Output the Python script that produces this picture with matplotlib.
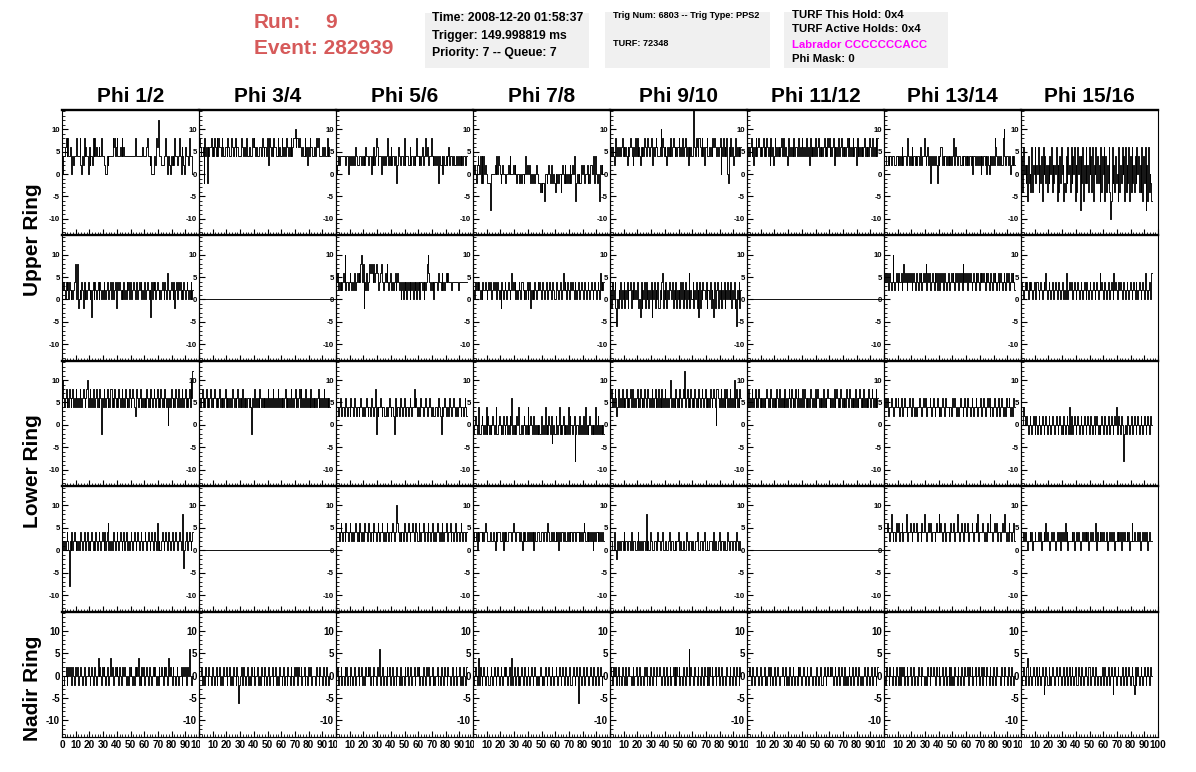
import numpy as np
import matplotlib
matplotlib.use("Agg")
import matplotlib.pyplot as plt
from matplotlib.patches import Rectangle
from matplotlib.ticker import MultipleLocator
from matplotlib.transforms import Bbox, TransformedBbox

plt.rcParams['font.family'] = ['Liberation Sans', 'DejaVu Sans']
plt.rcParams['font.weight'] = 'bold'
plt.rcParams['axes.unicode_minus'] = False

# ---------------- data ----------------
# Waveforms: one character per sample, value(mV) = 2*int(ch, 16) - 10
#  '0'=-10 '1'=-8 '2'=-6 '3'=-4 '4'=-2 '5'=0 '6'=2 '7'=4 '8'=6 '9'=8 'a'=10 'b'=12 'd'=16
sample_dt_ns = 0.6
column_titles = ["Phi 1/2", "Phi 3/4", "Phi 5/6", "Phi 7/8",
                 "Phi 9/10", "Phi 11/12", "Phi 13/14", "Phi 15/16"]
ring_labels = ["Upper Ring", "Lower Ring", "Nadir Ring"]
dead_channel = "5" * 168

upper_ring_top = [
    "55778979778757677897" "77965769787758677697" "97877877977765576777" "77989789777879787777"
    "77777777797777777787" "77789776755557698b97" "76666797577657676977" "66797587658777697775",
    "79877849784878897879" "87979887987788798777" "98789788777898788797" "78877989878777887987"
    "88797698787988779787" "79878798878797899a89" "98988787797868798877" "88798987778788779787",
    "55676777777767757767" "67768766777676768776" "67757686798677756767" "67796768677677468767"
    "77696777668677676797" "76767867797866779767" "67676476675766767867" "77676677676767677667",
    "55654676574747565444" "41455556575765456554" "45565755565654554454" "55457565564545545655"
    "44343442554565465454" "35454553565464545464" "56573245454465654556" "45466567475445265655",
    "78787679787787897878" "76878987687979787687" "87987898789768789877" "78a79878768787978987"
    "87889787978897868787" "79d87987998797868897" "78787989877878958797" "87954879786789787878",
    "87878978687978987878" "97879878697867987878" "78979878769878787978" "87897879878798786978"
    "78798789787878978798" "97878968787987897878" "78979878797886978787" "87897878798789787979",
    "67766767767776677676" "76867776797676867767" "67768767797678676476" "76776476788676776767"
    "67677968767776676776" "76767767577667676757" "67767576576767698767" "767669a7677667567676",
    "47385646274538365846" "58364728574636475836" "46582637485624374856" "38475826385717482648"
    "46385738265847462837" "58273648302846374528" "36485728364827384637" "48573638274816283542",
]

upper_ring_bottom = [
    "56765767576565679659" "45657647565676563675" "76567576565765676567" "57656745767656575657"
    "67576567656756767565" "76567656375767567656" "56765765876567657467" "65767565765676565756",
    dead_channel,
    "67867676787a67767876" "76786787879a79476867" "79898797898767898767" "87976787676786787675"
    "67576757675767576757" "675776757679a8767675" "77767877686767878777" "76777777767777777777",
    "56576767656576676567" "67656767657656476567" "65676568676756567657" "76565675674656576567"
    "67656765676567656765" "56765676568676576567" "67657656765676567656" "76567656765676586767",
    "56475674254657465746" "57466746575657445374" "65747564657365746574" "46578465746576657465"
    "74656475746574658465" "57465746374657665746" "65746537466746574657" "46575657465745265746",
    dead_channel,
    "67878678767a76787687" "78679787687878678767" "87687867878968787678" "76878687687867876787"
    "67878768787687869787" "87687876787687876878" "78768787678768787678" "67876787687876787876",
    "67656767657676567657" "76567656768656765676" "56765676567656586567" "67656765676567656765"
    "76567656765676568676" "56765676567658676567" "67656765676567656765" "76567656765876567658",
]

lower_ring_top = [
    "7a878978798789787987" "87987898789a78978798" "78978798487987897879" "97879878798789787987"
    "87987898767987897878" "78798787987898789787" "98787987857879878798" "87978798789787897a8b",
    "78789787897878978789" "87878978787897878787" "79878789787879787878" "87874878978787987878"
    "78789787879878789787" "87878978787897878978" "78979878789787879787" "87878978787897878787",
    "67767876776787677687" "76787677678767767876" "77687767947677876776" "67767876776487677687"
    "76787677678767797876" "77687767787677876776" "67767876476787677687" "76787677678767767876",
    "54565457445654547465" "45456545744565454654" "56454658454546575445" "45654547456545645454"
    "54465454745465463454" "46545745456454547465" "54561455456454654745" "45654545474564545454",
    "78978798679878797878" "97878979878789787987" "87987898787987897879" "78797879878789a78787"
    "98787987898b78978798" "78798787987898789787" "87987898759987897879" "78978798787a78978798",
    "87978798789787987878" "78789878798787879878" "97878797878987987879" "87987878979878787987"
    "78797898787879787898" "87878797898787987878" "79878987878797878987" "87978787987898787978",
    "77878677787767877876" "78767877677876787677" "67787767878767778767" "87677876767877687776"
    "77687787677678776787" "67877678767787677876" "78767787867767877678" "76787677687787676787",
    "55576556545654565465" "45654565456545654565" "54565456545465456547" "46545654565456545654"
    "56545654564565454565" "45654565456545657456" "54653145456545654565" "45654565456545654565",
]

lower_ring_bottom = [
    "76565676516575676565" "65676567656756567656" "57656765676575678565" "65676567656765675676"
    "56567656765676567656" "67656765676567658565" "56765676567656765676" "65676569356765676567",
    dead_channel,
    "67776787677687767876" "76778767687676787767" "87677687767876778767" "67876776787677a87676"
    "77687767876778767876" "68767787677687767876" "76787767687677876778" "67767876776787677767",
    "77667576777676787766" "67766765767776667576" "76677776787667776676" "57676677676767576677"
    "76677767767876677676" "67675766776776676767" "76776677767676787667" "67676756767767676776",
    "56655765465565665756" "65566575566556756565" "56659565576655665576" "65567556655675566556"
    "56675565566557655665" "65556676556655675565" "56665575665567556656" "65576556656655765565",
    dead_channel,
    "67778776797677687786" "77867779767787678777" "86777687797767877867" "77678779787677867777"
    "68777867797767877687" "77867778767787967777" "87677687797767877867" "77678779767687767786",
    "56676766566767566766" "67667566768676656767" "76567667576676867566" "66767566767656676767"
    "67566767667857667676" "76667566767667566767" "67576676676756686676" "66767566767667567766",
]

nadir_ring = [
    "54455645656546546556" "45565456545565456545" "65457565465654565457" "56545656546545656545"
    "54656545465657454656" "45565465545656545465" "56546565457565465545" "65455645656456585545",
    "45564554655465546554" "56455645546556455645" "54655465245564655456" "45546556455645546554"
    "65455645564556455465" "54564554655465546556" "46556455645546556455" "55465546554655465545",
    "55645564554656455465" "45564556455645546556" "56455465546558455645" "54655645564554655465"
    "45546556455645564556" "56455465546556455645" "45564554655465546554" "55645564556455465546",
    "54565457465456545654" "45654565456545654565" "65456547456545645456" "54565456545654565454"
    "45654545654565456545" "56545654565456545654" "45654565256545654565" "54565456545654565455",
    "56546556456455465546" "45565545645564556455" "54656455465546554655" "65545645564556455646"
    "46556455465546558465" "55465546554655465546" "46556455645564556455" "54655465546554655465",
    "45565456545665456545" "56454565465456545654" "45565456454565456545" "54656545565456545654"
    "45545654565445654565" "56565456545654565456" "45456545654565456545" "54565456545654565456",
    "55465546554655465546" "46556455645564556455" "54655465545546554655" "65546556455645564556"
    "46455465546554655465" "55646556455645564556" "46554655465546554655" "55465546554655465545",
    "54565456745654565456" "45654565346544654565" "54565456545664565456" "45654565446545654565"
    "54665456545654555456" "45654565456535654565" "54565456445654565436" "45654565456545654565",
]

rows_data = [upper_ring_top, upper_ring_bottom, lower_ring_top, lower_ring_bottom, nadir_ring]

header_run = "9"
header_event = "282939"
box1_lines = ["Time: 2008-12-20 01:58:37", "Trigger: 149.998819 ms", "Priority: 7 -- Queue: 7"]
box2_lines = ["Trig Num: 6803 -- Trig Type: PPS2", "TURF: 72348"]
box3_lines = ["TURF This Hold: 0x4", "TURF Active Holds: 0x4", "Labrador CCCCCCCACC", "Phi Mask: 0"]

# ---------------- figure ----------------
FW, FH = 1196, 772
fig = plt.figure(figsize=(FW / 100, FH / 100), dpi=100)
fig.patch.set_facecolor('white')


def fx(x):
    return x / FW


def fy(y):
    return 1 - y / FH


PANEL_X0, PANEL_W = 62, 137
PANEL_Y0, PANEL_H = 110, 125.4
Y_MIN, Y_MAX = -13.7, 14.3


def decode(s):
    return np.array([2 * int(c, 16) - 10 for c in s], dtype=float)


for i, row in enumerate(rows_data):
    for j, wf in enumerate(row):
        x0 = PANEL_X0 + PANEL_W * j
        y0 = PANEL_Y0 + PANEL_H * i
        ax = fig.add_axes([fx(x0), fy(y0 + PANEL_H), PANEL_W / FW, PANEL_H / FH])
        ax.set_facecolor('none')
        vals = decode(wf)
        t = np.arange(len(vals)) * sample_dt_ns
        ax.plot(t, vals, color='black', lw=0.65, drawstyle='steps-mid',
                antialiased=True, snap=True)
        ax.set_xlim(0, 100)
        ax.set_ylim(Y_MIN, Y_MAX)
        ax.set_yticks([-10, -5, 0, 5, 10])
        ax.yaxis.set_minor_locator(MultipleLocator(1))
        ax.set_xticks(np.arange(0, 101, 10))
        ax.xaxis.set_minor_locator(MultipleLocator(2))
        ylab = 7.0 if i == 4 else 5.6
        ax.tick_params(axis='y', which='major', direction='in', length=4, width=0.8,
                       labelsize=ylab, pad=1.5, right=False)
        ax.tick_params(axis='y', which='minor', direction='in', length=2, width=0.6, right=False)
        ax.tick_params(axis='x', which='major', direction='in', length=4, width=0.8,
                       labelsize=7.2, pad=2, top=False, labelbottom=(i == 4))
        ax.tick_params(axis='x', which='minor', direction='in', length=2, width=0.6, top=False)
        for lbl in ax.get_yticklabels():
            lbl.set_fontweight('bold')
        ax.spines['top'].set_linewidth(1.7)
        ax.spines['bottom'].set_linewidth(1.2 if i < 4 else 0.9)
        ax.spines['left'].set_linewidth(0.8)
        ax.spines['right'].set_linewidth(0.8)
        if i == 4:
            xl = [str(v) for v in range(0, 101, 10)]
            if j > 0:
                xl[0] = ""
            ax.set_xticklabels(xl, fontweight='bold')
            left_clip = x0 - 12 if j == 0 else x0
            right_clip = x0 + PANEL_W + (12 if j == 7 else 1)
            clip = TransformedBbox(Bbox.from_extents(fx(left_clip), 0, fx(right_clip), 1),
                                   fig.transFigure)
            for tk in ax.xaxis.get_major_ticks():
                tk.label1.set_clip_box(clip)
                tk.label1.set_clip_on(True)
        if i == 0:
            fig.text(fx(x0 + PANEL_W / 2), fy(97), column_titles[j], ha='center', va='center',
                     fontsize=15, fontweight='bold')

# ring labels
for lab, yc in zip(ring_labels, [240, 471, 688]):
    fig.text(fx(32), fy(yc), lab, rotation=90, ha='center', va='center',
             fontsize=15, fontweight='bold')

# header
red = '#d65a5a'
fig.text(fx(254), fy(23), "Run:", color=red, fontsize=15, fontweight='bold', va='center')
fig.text(fx(325), fy(23), header_run, color=red, fontsize=15, fontweight='bold', va='center')
fig.text(fx(254), fy(49), "Event: " + header_event, color=red, fontsize=15,
         fontweight='bold', va='center')

box_col = '#f0f0f0'
for (bx0, by0, bx1, by1) in [(425, 13, 589, 68), (605, 12, 770, 68), (784, 12, 948, 68)]:
    fig.patches.append(Rectangle((fx(bx0), fy(by1)), (bx1 - bx0) / FW, (by1 - by0) / FH,
                                 transform=fig.transFigure, facecolor=box_col,
                                 edgecolor='none', zorder=0))

for line, yy in zip(box1_lines, [18, 35.5, 53]):
    fig.text(fx(432), fy(yy), line, fontsize=8.8, fontweight='bold', va='center')
for line, yy in zip(box2_lines, [16, 44]):
    fig.text(fx(613), fy(yy), line, fontsize=6.6, fontweight='bold', va='center')
for line, yy, col in zip(box3_lines, [15, 29.5, 44.5, 58.5],
                         ['black', 'black', '#ff00ff', 'black']):
    fig.text(fx(792), fy(yy), line, fontsize=8.2, fontweight='bold', va='center', color=col)

fig.savefig("out.png", dpi=100, facecolor='white')
